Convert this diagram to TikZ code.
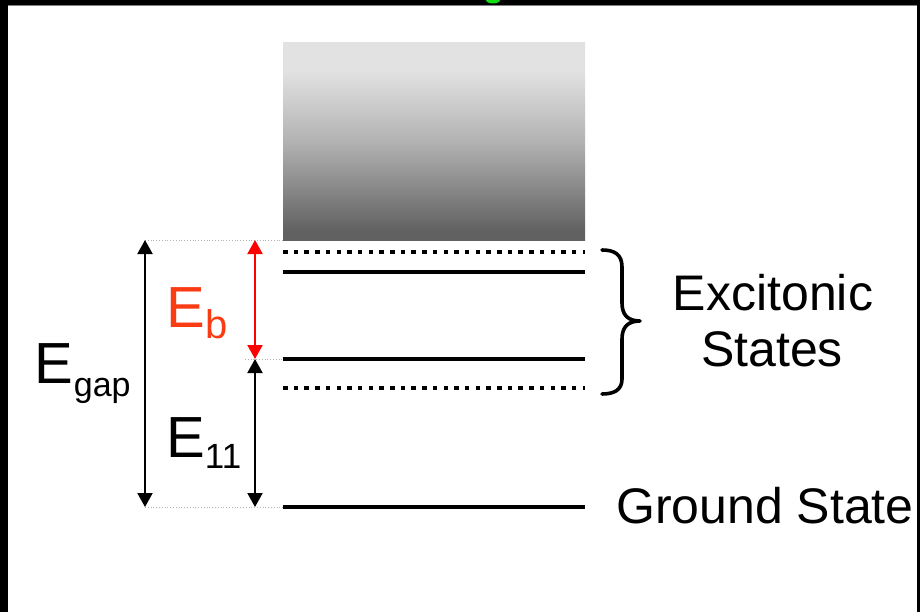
\documentclass[tikz,border=0pt]{standalone}
\usepackage{fontspec}
\setmainfont{Liberation Sans}
\usetikzlibrary{arrows.meta}

\definecolor{ebred}{RGB}{250,60,20}
\definecolor{bandtop}{RGB}{226,226,226}
\definecolor{bandmid}{RGB}{178,178,178}
\definecolor{bandbot}{RGB}{97,97,97}
\definecolor{titlegreen}{RGB}{20,220,20}
% TikZ maps the path box onto 25bp..75bp of the shading
\pgfdeclareverticalshading{bandfill}{100bp}{color(0bp)=(bandbot); color(27.5bp)=(bandbot); color(50bp)=(bandmid); color(68bp)=(bandtop); color(100bp)=(bandtop)}

\begin{document}
\begin{tikzpicture}[x=1pt,y=-1pt,
  level/.style={line width=4.5pt},
  virtual/.style={line width=4.5pt, dash pattern=on 4.5pt off 6.2pt},
  guide/.style={gray!60, line width=0.8pt, dotted},
  span/.style={line width=2pt, {Triangle[length=14pt,width=15pt]}-{Triangle[length=14pt,width=15pt]}},
  lbl/.style={inner sep=0pt, anchor=base west},
  bigE/.style={font=\fontsize{58}{58}\selectfont},
  caption/.style={inner sep=0pt, anchor=base, font=\fontsize{50}{50}\selectfont}
]
\useasboundingbox (0,0) rectangle (920,612);
\fill[white] (0,0) rectangle (920,612);

% continuum band
\shade[shading=bandfill] (283,43) rectangle (585,241);

% level end points
\coordinate (v1L) at (283,252); \coordinate (v1R) at (585,252);
\coordinate (x1L) at (283,272); \coordinate (x1R) at (585,272);
\coordinate (x2L) at (283,359); \coordinate (x2R) at (585,359);
\coordinate (v2L) at (283,388); \coordinate (v2R) at (585,388);
\coordinate (gL)  at (283,507); \coordinate (gR)  at (585,507);

\draw[virtual] (v1L) -- (v1R);
\draw[level]   (x1L) -- (x1R);
\draw[level]   (x2L) -- (x2R);
\draw[virtual] (v2L) -- (v2R);
\draw[level]   (gL) -- (gR);

% energy spans
\coordinate (gapTop) at (145,240);
\coordinate (gapBot) at (145,507);
\coordinate (ebTop)  at (255,240);
\coordinate (ebBot)  at (255,359);
\coordinate (e11Bot) at (255,507);
\coordinate (bandBL) at (283,240);
\coordinate (ebGuide) at (245,359);

\draw[guide] (gapTop) -- (bandBL);
\draw[guide] (ebGuide) -- (x2L);
\draw[guide] (gapBot) -- (gL);

\draw[span] (gapTop) -- (gapBot);
\draw[span, red] (ebTop) -- (ebBot);
\draw[span] (ebBot) -- (e11Bot);

% labels
\node[lbl, bigE] (egap) at (34,383)
  {E\kern1pt\raisebox{-13pt}{\fontsize{34}{34}\selectfont gap}};
\node[lbl, bigE, text=ebred] (eb) at (166,327)
  {E\kern1pt\raisebox{-11pt}{\fontsize{40}{40}\selectfont b}};
\node[lbl, bigE] (e11) at (166,457)
  {E\kern0pt\raisebox{-11pt}{\fontsize{35}{35}\selectfont 11}};

% excitonic states brace
\coordinate (brTop) at (602,250);
\coordinate (brTip) at (640,321);
\coordinate (brBot) at (602,394);
\draw[line width=3.6pt, line cap=round, line join=round]
  (brTop) .. controls (614,250) and (622,254) .. (622,267)
  -- (622,303) .. controls (622,315) and (628,321) .. (brTip)
  .. controls (628,321) and (622,327) .. (622,339)
  -- (622,379) .. controls (622,390) and (614,394) .. (brBot);

\node[caption] (exc) at (773,310) {Excitonic};
\node[caption] (sta) at (772,366) {States};
\node[caption, anchor=base west] (gs) at (616,523) {Ground State};

% frame
\fill[black] (0,0) rectangle (920,5);
\fill[black] (0,0) rectangle (8,612);
\fill[black] (917,0) rectangle (920,612);
\fill[gray] (8,5) rectangle (917,6);
\fill[titlegreen] (493,0) ellipse (7 and 3.5);
\end{tikzpicture}
\end{document}
